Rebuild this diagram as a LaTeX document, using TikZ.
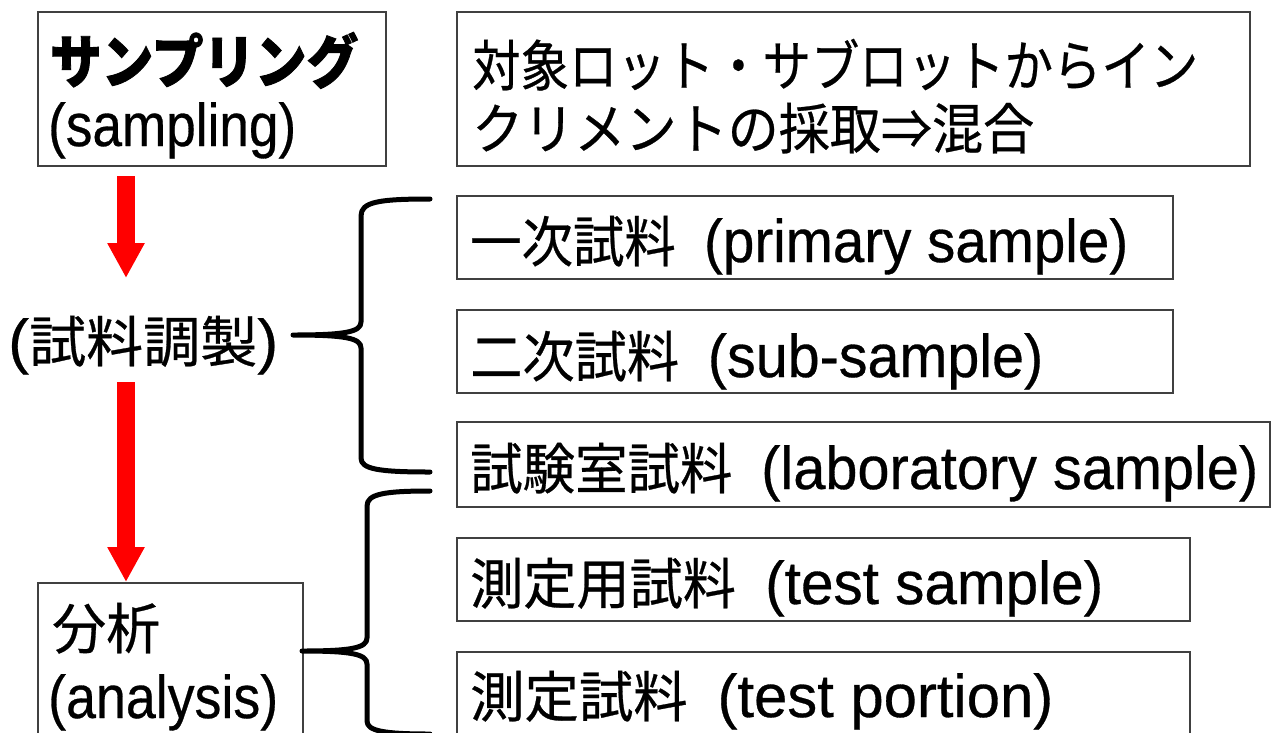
\documentclass[tikz,border=0pt]{standalone}
\usepackage{fontspec}
\usepackage{graphicx}
\setmainfont{Noto Sans CJK JP}[FakeBold=0.5]
\newfontfamily\lat{Liberation Sans}[Scale=1.1, FakeBold=0.5]
\usetikzlibrary{arrows.meta}
\newcommand{\fitw}[2]{\resizebox{#1pt}{\height}{#2}}
\newcommand{\gp}{\hspace{0.55em}}
\tikzset{
  box/.style={draw=black!75, line width=1.3pt, inner sep=0pt},
  txt/.style={anchor=base west, inner sep=0pt, font=\fontsize{55}{60}\selectfont},
  bracestyle/.style={line width=5pt, line cap=round, line join=round},
  redarrow/.style={draw=red, line width=18pt, -{Triangle[width=35pt,length=35pt]}}
}
\begin{document}
\begin{tikzpicture}[x=1pt,y=-1pt]
\useasboundingbox (0,0) rectangle (1272,732);
\clip (0,0) rectangle (1272,732);
% boxes
\node[box, minimum width=348pt, minimum height=154pt] (A) at (212,89) {};
\node[box, minimum width=793pt, minimum height=154pt] (B) at (853.5,89) {};
\node[box, minimum width=716pt, minimum height=83pt] (P1) at (815,237.5) {};
\node[box, minimum width=716pt, minimum height=83pt] (P2) at (815,351.5) {};
\node[box, minimum width=813pt, minimum height=85pt] (P3) at (863.5,464.5) {};
\node[box, minimum width=733pt, minimum height=83pt] (P4) at (823.5,579.5) {};
\node[box, minimum width=733pt, minimum height=93pt] (P5) at (823.5,698.5) {};
\node[box, minimum width=265pt, minimum height=162pt] (An) at (170.5,664) {};
% texts
\node[txt, font=\fontsize{58}{64}\selectfont\bfseries] (tA1) at (50,83) {\fitw{308}{\addfontfeature{FakeBold=1.5}サンプリング}};
\node[txt] (tA2) at (48,146) {\fitw{248}{\lat (sampling)}};
\node[txt] (tB1) at (472,86) {\fitw{726}{対象ロット・サブロットからイン}};
\node[txt] (tB2) at (472,149) {\fitw{562}{クリメントの採取⇒混合}};
\node[txt] (t1) at (470,262) {\fitw{658}{一次試料\gp{\lat (primary sample)}}};
\node[txt] (t2) at (470,377) {\fitw{573}{二次試料\gp{\lat (sub-sample)}}};
\node[txt] (t3) at (470,489) {\fitw{788}{試験室試料\gp{\lat (laboratory sample)}}};
\node[txt] (t4) at (470,604) {\fitw{633}{測定用試料\gp{\lat (test sample)}}};
\node[txt] (t5) at (470,717) {\fitw{583}{測定試料\gp{\lat (test portion)}}};
\node[txt] (prep) at (8,362) {\fitw{270}{{\lat (}試料調製{\lat )}}};
\node[txt] (tAn1) at (52,649) {\fitw{108}{分析}};
\node[txt] (tAn2) at (48,718) {\fitw{230}{\lat (analysis)}};
% red arrows
\coordinate (a1s) at (126,176);
\coordinate (a1e) at (126,278);
\coordinate (a2s) at (126,382);
\coordinate (a2e) at (126,582);
\draw[redarrow] (a1s) -- (a1e);
\draw[redarrow] (a2s) -- (a2e);
% braces
\coordinate (b1tip) at (293,335);
\coordinate (b1top) at (430,199);
\coordinate (b1bot) at (430,472);
\draw[bracestyle] (b1top) .. controls (378,199) and (361,202) .. (361,216)
  -- (361,322) .. controls (361,332) and (345,335) .. (b1tip)
  .. controls (345,335) and (361,338) .. (361,348)
  -- (361,458) .. controls (361,469) and (378,472) .. (b1bot);
\coordinate (b2tip) at (302,651);
\coordinate (b2top) at (430,491);
\coordinate (b2bot) at (430,734);
\draw[bracestyle] (b2top) .. controls (384,491) and (367,494) .. (367,506)
  -- (367,638) .. controls (367,648) and (351,651) .. (b2tip)
  .. controls (351,651) and (367,654) .. (367,664)
  -- (367,721) .. controls (367,731) and (384,734) .. (b2bot);
\end{tikzpicture}
\end{document}
